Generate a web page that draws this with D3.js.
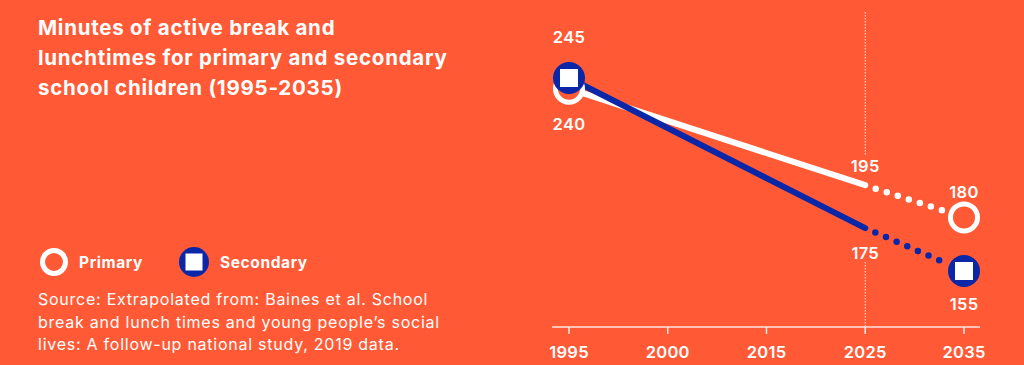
<!DOCTYPE html>
<html><head><meta charset="utf-8">
<script src="https://cdn.jsdelivr.net/npm/d3@7"></script>
<style>
html,body{margin:0;padding:0;background:#FF5A35;}
svg{display:block;}
text{font-family:"Inter","Lato","DejaVu Sans",sans-serif;fill:#fff;}
</style></head><body>
<svg id="c" width="1024" height="365"></svg>
<script>
const years = ["1995","2000","2015","2025","2035"];
const primaryYears = ["1995","2025","2035"];
const primaryValues = [240,195,180];
const secondaryYears = ["1995","2025","2035"];
const secondaryValues = [245,175,155];
const titleLines = ["Minutes of active break and","lunchtimes for primary and secondary","school children (1995-2035)"];
const sourceLines = ["Source: Extrapolated from: Baines et al. School","break and lunch times and young people\u2019s social","lives: A follow-up national study, 2019 data."];
const legendLabels = ["Primary","Secondary"];
const projectionStart = "2025";

const BG="#FF5A35", BLUE="#0B27A8", WHITE="#ffffff";
const svg=d3.select("#c");

const x=d3.scalePoint().domain(years).range([569,964]);
const y=d3.scaleLinear().domain([155,245]).range([271,78]);

// title
svg.append("text").attr("x",38).attr("y",35).attr("font-size",20.5).attr("font-weight",700).attr("letter-spacing",0.75)
  .selectAll("tspan").data(titleLines).join("tspan").attr("x",38).attr("dy",(d,i)=>i?30:0).text(d=>d);

// source
svg.append("text").attr("x",38).attr("y",305).attr("font-size",16).attr("font-weight",400).attr("letter-spacing",0.75)
  .selectAll("tspan").data(sourceLines).join("tspan").attr("x",38).attr("dy",(d,i)=>i?22.5:0).text(d=>d);

// legend
const lg=svg.append("g");
lg.append("circle").attr("cx",54).attr("cy",262).attr("r",11.5).attr("fill",BG).attr("stroke",WHITE).attr("stroke-width",5);
lg.append("text").attr("x",79).attr("y",268).attr("font-size",15.5).attr("font-weight",700).attr("letter-spacing",0.6).text(legendLabels[0]);
lg.append("circle").attr("cx",194).attr("cy",262).attr("r",15).attr("fill",BLUE);
lg.append("rect").attr("x",194-8.5).attr("y",262-8.5).attr("width",17).attr("height",17).attr("fill",WHITE);
lg.append("text").attr("x",220).attr("y",268).attr("font-size",15.5).attr("font-weight",700).attr("letter-spacing",0.6).text(legendLabels[1]);

// axis
const ax=svg.append("g").attr("transform","translate(0,327)");
ax.append("line").attr("x1",552).attr("x2",980).attr("stroke",WHITE).attr("stroke-width",1.5).attr("opacity",0.85);
ax.selectAll("line.t").data(years).join("line").attr("class","t")
  .attr("x1",d=>x(d)).attr("x2",d=>x(d)).attr("y1",0).attr("y2",7).attr("stroke",WHITE).attr("stroke-width",1.5).attr("opacity",0.85);
ax.selectAll("text").data(years).join("text").attr("x",d=>x(d)).attr("y",31)
  .attr("text-anchor","middle").attr("font-size",16.5).attr("font-weight",600).attr("letter-spacing",0.3).text(d=>d);

// projection vertical dotted line
const px=x(projectionStart);
[[12,156],[262,333]].forEach(([a,b])=>{
  svg.append("line").attr("x1",px).attr("x2",px).attr("y1",a).attr("y2",b)
    .attr("stroke",WHITE).attr("stroke-width",1).attr("stroke-dasharray","1.5,1.5").attr("opacity",0.9);
});

function series(yrs,vals,color){
  const pts=yrs.map((d,i)=>({yr:d,v:vals[i]}));
  const line=d3.line().x(d=>x(d.yr)).y(d=>y(d.v));
  const k=yrs.indexOf(projectionStart);
  svg.append("path").datum(pts.slice(0,k+1)).attr("d",line).attr("fill","none")
    .attr("stroke",color).attr("stroke-width",6).attr("stroke-linecap","round");
  const a=pts[k], b=pts[k+1];
  const x0=x(a.yr), y0=y(a.v), x1=x(b.yr), y1=y(b.v);
  const len=Math.hypot(x1-x0,y1-y0);
  const ux=(x1-x0)/len, uy=(y1-y0)/len;
  svg.append("line").attr("x1",x0+ux*11).attr("y1",y0+uy*11).attr("x2",x1-ux*20).attr("y2",y1-uy*20)
    .attr("stroke",color).attr("stroke-width",6.5).attr("stroke-linecap","round")
    .attr("stroke-dasharray","0,11.6");
  return pts;
}
const pPts=series(primaryYears,primaryValues,WHITE);
const sPts=series(secondaryYears,secondaryValues,BLUE);

// markers
[pPts[0],pPts[pPts.length-1]].forEach(d=>{
  svg.append("circle").attr("cx",x(d.yr)).attr("cy",y(d.v)).attr("r",13.5)
    .attr("fill",BG).attr("stroke",WHITE).attr("stroke-width",5);
});
[sPts[0],sPts[sPts.length-1]].forEach(d=>{
  svg.append("circle").attr("cx",x(d.yr)).attr("cy",y(d.v)).attr("r",16).attr("fill",BLUE);
  svg.append("rect").attr("x",x(d.yr)-9).attr("y",y(d.v)-9).attr("width",18).attr("height",18).attr("fill",WHITE);
});

// value labels
const lab=(yr,v,dy)=>svg.append("text").attr("x",x(yr)).attr("y",y(v)+dy).attr("text-anchor","middle")
  .attr("font-size",16.5).attr("font-weight",600).attr("letter-spacing",0.3).text(v);
lab(secondaryYears[0],secondaryValues[0],-35);
lab(primaryYears[0],primaryValues[0],41);
lab(primaryYears[1],primaryValues[1],-13);
lab(secondaryYears[1],secondaryValues[1],31);
lab(primaryYears[2],primaryValues[2],-19);
lab(secondaryYears[2],secondaryValues[2],39);
</script></body></html>
